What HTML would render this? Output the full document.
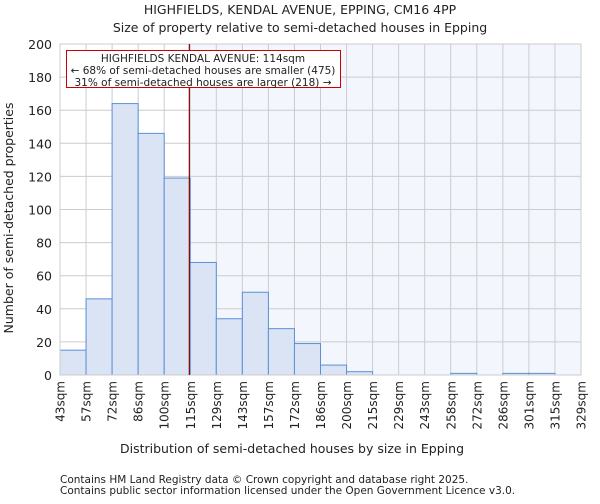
<!DOCTYPE html>
<html><head><meta charset="utf-8"><style>
body{margin:0;background:#fff;font-family:"DejaVu Sans","Liberation Sans",sans-serif;}
svg text{font-family:"DejaVu Sans","Liberation Sans",sans-serif;fill:#222;}
</style></head><body>
<svg id="c" width="600" height="500">
<text x="300" y="14" font-size="12.5" text-anchor="middle">HIGHFIELDS, KENDAL AVENUE, EPPING, CM16 4PP</text>
<text x="300" y="32" font-size="12.5" text-anchor="middle">Size of property relative to semi-detached houses in Epping</text>
<text x="292" y="453" font-size="12.5" text-anchor="middle">Distribution of semi-detached houses by size in Epping</text>
<text transform="translate(13,218) rotate(-90)" font-size="12.5" text-anchor="middle">Number of semi-detached properties</text>
<text x="60" y="483" font-size="10.5" fill="#444">Contains HM Land Registry data © Crown copyright and database right 2025.</text>
<text x="60" y="494" font-size="10.5" fill="#444">Contains public sector information licensed under the Open Government Licence v3.0.</text>
</svg>
<script>
const binLabels=["43sqm","57sqm","72sqm","86sqm","100sqm","115sqm","129sqm","143sqm","157sqm","172sqm","186sqm","200sqm","215sqm","229sqm","243sqm","258sqm","272sqm","286sqm","301sqm","315sqm","329sqm"];
const counts=[15,46,164,146,119,68,34,50,28,19,6,2,0,0,0,1,0,1,1,0];
const yTicks=[0,20,40,60,80,100,120,140,160,180,200];
const markerSqm=114;
const binStart=43, binEnd=329;
const svg=document.getElementById('c');
const NS='http://www.w3.org/2000/svg';
const L=60,R=581,T=44,B=375,yMax=200;
const n=counts.length, bw=(R-L)/n;
const xb=i=>L+i*bw;
const xs=v=>L+(v-binStart)/(binEnd-binStart)*(R-L);
const y=v=>B-v/yMax*(B-T);
function mk(t,a){const e=document.createElementNS(NS,t);for(const k in a)e.setAttribute(k,a[k]);svg.appendChild(e);return e;}
const bg=mk('rect',{x:L,y:T,width:R-L,height:B-T,fill:'#fff'});


const mx=xs(markerSqm);
const sh=mk('rect',{x:mx,y:T,width:R-mx,height:B-T,fill:'#f3f6fd'});


yTicks.forEach(v=>{
 const g=mk('line',{x1:L,x2:R,y1:y(v),y2:y(v),stroke:'#ccc','stroke-width':1});
 
 
 const t=mk('text',{x:L-8,y:y(v)+5,'font-size':12.5,'text-anchor':'end'});
 t.textContent=v;
 
 
});
binLabels.forEach((s,i)=>{
 const g=mk('line',{x1:xb(i),x2:xb(i),y1:T,y2:B,stroke:'#ccc','stroke-width':1});
 
 
 const t=mk('text',{transform:`translate(${xb(i)+4.5},${B+6}) rotate(-90)`,'font-size':12,'text-anchor':'end'});
 t.textContent=s;
 
 
});
counts.forEach((c,i)=>{
 if(c<=0)return;
 const r=mk('rect',{x:xb(i),y:y(c),width:bw,height:B-y(c),fill:'#dae4f4',stroke:'#5b8fd6','stroke-width':1});
 
 
});
const fr=mk('rect',{x:L,y:T,width:R-L,height:B-T,fill:'none',stroke:'#ccc','stroke-width':1});


const ml=mk('line',{x1:mx,x2:mx,y1:T,y2:B,stroke:'#8b0000','stroke-width':1.2});


const box=mk('rect',{x:66.5,y:50.5,width:274,height:37,fill:'#fff',stroke:'#cc0000','stroke-width':1});


["HIGHFIELDS KENDAL AVENUE: 114sqm","← 68% of semi-detached houses are smaller (475)","31% of semi-detached houses are larger (218) →"].forEach((s,i)=>{
 const t=mk('text',{x:203,y:62+i*12,'font-size':10.5,'text-anchor':'middle'});
 t.textContent=s;
 
 
});
</script>
</body></html>
